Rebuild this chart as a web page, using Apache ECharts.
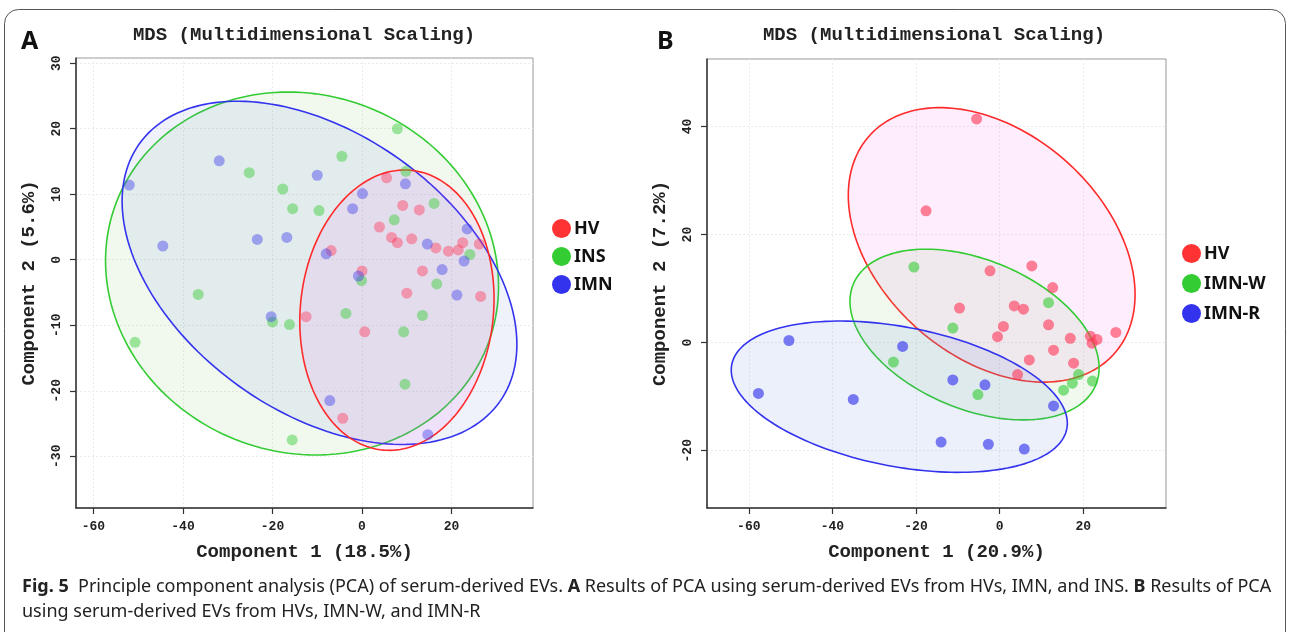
<!DOCTYPE html>
<html><head><meta charset="utf-8">
<script src="https://cdn.jsdelivr.net/npm/echarts@6/dist/echarts.min.js"></script>
<style>html,body{margin:0;padding:0;background:#fff}#c{width:1290px;height:632px}</style>
</head><body><div id="c"></div>
<script>
// ---------- Panel A data ----------
const hvA = [[5.5,12.5],[9.1,8.3],[12.8,7.6],[3.9,5.0],[6.6,3.4],[7.9,2.6],[11.1,3.2],[22.5,2.6],[26.2,2.4],[16.5,1.8],[19.3,1.3],[21.5,1.5],[-6.9,1.4],[13.5,-1.7],[0,-1.7],[10.0,-5.1],[26.5,-5.6],[-12.5,-8.7],[0.6,-11.0],[-4.3,-24.2]];
const insA = [[-25.2,13.3],[-17.7,10.8],[-15.5,7.8],[7.9,20.0],[-4.5,15.8],[-9.6,7.5],[9.8,13.5],[16.1,8.6],[7.2,6.1],[24.1,0.8],[-0.1,-3.2],[16.7,-3.7],[-3.6,-8.2],[13.5,-8.5],[9.3,-11.0],[9.6,-19.0],[-15.6,-27.5],[-16.2,-9.9],[-36.6,-5.3],[-20.0,-9.5],[-50.7,-12.6]];
const imnA = [[-52.0,11.4],[-31.9,15.1],[-44.5,2.1],[-23.4,3.1],[-16.8,3.4],[-10.0,12.9],[9.7,11.6],[0.1,10.1],[-2.1,7.8],[23.5,4.7],[14.6,2.4],[-8.0,0.9],[22.8,-0.2],[17.9,-1.5],[-0.8,-2.5],[21.2,-5.4],[-7.2,-21.5],[14.7,-26.7],[-20.3,-8.7]];
// ---------- Panel B data ----------
const hvB = [[-17.6,24.4],[-5.5,41.4],[7.7,14.2],[-2.3,13.3],[12.7,10.2],[-9.6,6.4],[3.5,6.8],[5.7,6.2],[0.9,3.0],[-0.5,1.1],[11.7,3.3],[16.9,0.8],[21.7,1.2],[23.3,0.6],[22.1,-0.1],[27.8,1.9],[12.9,-1.4],[7.1,-3.2],[17.7,-3.8],[4.3,-5.9]];
const imnwB = [[-20.5,14.0],[11.7,7.4],[-11.2,2.7],[18.9,-5.9],[17.4,-7.5],[22.2,-7.1],[15.3,-8.8],[-5.2,-9.6],[-25.4,-3.6]];
const imnrB = [[-11.2,-6.9],[-3.5,-7.8],[12.9,-11.7],[-14.0,-18.4],[-2.7,-18.8],[5.9,-19.7],[-50.4,0.4],[-23.2,-0.7],[-57.7,-9.4],[-35.0,-10.5]];
// ---------- confidence ellipses: [centerX, centerY, radiusX, radiusY, phase] ----------
const ellHvA  = [7.8, -7.7, 21.7, 21.4, 0.08];
const ellInsA = [-13.4, -2.1, 43.9, 27.7, -0.07];
const ellImnA = [-9.5, -2.0, 44.1, 26.2, -0.43];
const ellHvB   = [-1.9, 18.1, 34.3, 25.4, -0.37];
const ellImnwB = [-6.0, 1.5, 29.8, 15.8, -0.40];
const ellImnrB = [-24.0, -10.0, 40.2, 14.0, -0.36];
// ---------- ticks ----------
const xTicksA = [-60,-40,-20,0,20];
const yTicksA = [-30,-20,-10,0,10,20,30];
const xTicksB = [-60,-40,-20,0,20];
const yTicksB = [-20,0,20,40];
const legendA = ['HV','INS','IMN'];
const legendB = ['HV','IMN-W','IMN-R'];

const RED='#ff3333', GREEN='#33cc33', BLUE='#3333ee';
const mono = "'Liberation Mono','DejaVu Sans Mono',monospace";

function ellipseSeries(name, idx, params, stroke, fill){
  return {
    type:'custom', name:name, xAxisIndex:idx, yAxisIndex:idx, z:1, silent:true,
    data:[params],
    renderItem:function(p, api){
      const cx=api.value(0), cy=api.value(1), rx=api.value(2), ry=api.value(3), ph=api.value(4);
      const pts=[];
      for(let i=0;i<180;i++){
        const t=i/180*2*Math.PI;
        pts.push(api.coord([cx+rx*Math.cos(t), cy+ry*Math.sin(t+ph)]));
      }
      return {type:'polygon', shape:{points:pts}, style:{fill:fill, stroke:stroke, lineWidth:1.6}};
    }
  };
}
function scatterSeries(name, idx, data, color, op){
  return {type:'scatter', name:name, xAxisIndex:idx, yAxisIndex:idx, z:3, data:data,
    symbolSize:11, itemStyle:{color:color, opacity:op}};
}
function xAxis(idx, min, max, ticks, name){
  return {gridIndex:idx, type:'value', min:min, max:max,
    axisLine:{show:true, onZero:false, lineStyle:{color:'#333', width:1.5}},
    axisTick:{show:true, length:6, customValues:ticks, lineStyle:{color:'#333', width:1.2}},
    axisLabel:{customValues:ticks, margin:12, fontFamily:mono, fontWeight:'bold', fontSize:13, color:'#222'},
    splitLine:{show:true, lineStyle:{color:'#ebebeb', type:[2,2]}},
    name:name, nameLocation:'middle', nameGap:35,
    nameTextStyle:{fontFamily:mono, fontWeight:'bold', fontSize:19, color:'#222'}};
}
function yAxis(idx, min, max, ticks, name){
  return {gridIndex:idx, type:'value', min:min, max:max,
    axisLine:{show:true, onZero:false, lineStyle:{color:'#333', width:1.5}},
    axisTick:{show:true, length:6, customValues:ticks, lineStyle:{color:'#333', width:1.2}},
    axisLabel:{customValues:ticks, margin:13, rotate:90, fontFamily:mono, fontWeight:'bold', fontSize:13, color:'#222'},
    splitLine:{show:true, lineStyle:{color:'#ebebeb', type:[2,2]}},
    name:name, nameLocation:'middle', nameGap:37,
    nameTextStyle:{fontFamily:mono, fontWeight:'bold', fontSize:19, color:'#222'}};
}
function legend(left, top, names, gap){
  const cols=[RED,GREEN,BLUE];
  return {orient:'vertical', left:left, top:top, itemWidth:19, itemHeight:19, itemGap:gap, icon:'circle',
    selectedMode:false,
    textStyle:{fontFamily:"'Noto Sans',sans-serif", fontWeight:'bold', fontSize:18, color:'#111', padding:[0,0,0,-2]},
    data:names.map((n,i)=>({name:n, itemStyle:{color:cols[i], opacity:1}}))};
}

const chart = echarts.init(document.getElementById('c'), null, {renderer:'canvas'});
chart.setOption({
  animation:false,
  backgroundColor:'#fff',
  grid:[
    {left:76, top:58, width:457, height:450, show:true, borderColor:'#999', borderWidth:1},
    {left:707, top:59, width:459, height:449, show:true, borderColor:'#999', borderWidth:1}
  ],
  xAxis:[xAxis(0,-63.9,38.2,xTicksA,'Component 1 (18.5%)'), xAxis(1,-70,39.8,xTicksB,'Component 1 (20.9%)')],
  yAxis:[yAxis(0,-37.9,30.8,yTicksA,'Component 2 (5.6%)'), yAxis(1,-30.6,52.5,yTicksB,'Component 2 (7.2%)')],
  legend:[legend(547,214,legendA,9), legend(1177,239,legendB,11)],
  series:[
    ellipseSeries('e1',0,ellInsA,GREEN,'rgba(120,200,100,0.10)'),
    ellipseSeries('e2',0,ellImnA,BLUE,'rgba(100,130,220,0.10)'),
    ellipseSeries('e3',0,ellHvA,'#ff2a2a','rgba(240,80,240,0.10)'),
    scatterSeries('HV',0,hvA,'#ff3355',0.42),
    scatterSeries('INS',0,insA,'#33cc33',0.45),
    scatterSeries('IMN',0,imnA,'#4444ee',0.45),
    ellipseSeries('e4',1,ellHvB,'#ff2a2a','rgba(240,80,240,0.10)'),
    ellipseSeries('e5',1,ellImnwB,GREEN,'rgba(120,200,100,0.10)'),
    ellipseSeries('e6',1,ellImnrB,BLUE,'rgba(100,130,220,0.12)'),
    scatterSeries('HV',1,hvB,'#ff3355',0.6),
    scatterSeries('IMN-W',1,imnwB,'#33cc33',0.6),
    scatterSeries('IMN-R',1,imnrB,'#4444ee',0.7)
  ],
  graphic:[
    {type:'rect', silent:true, shape:{x:4.5,y:9.5,width:1281,height:660,r:14}, style:{fill:'none', stroke:'#555', lineWidth:1}},
    {type:'text', silent:true, x:304, y:35, style:{text:'MDS (Multidimensional Scaling)', align:'center', verticalAlign:'middle', fontFamily:mono, fontWeight:'bold', fontSize:19, fill:'#222'}},
    {type:'text', silent:true, x:934, y:35, style:{text:'MDS (Multidimensional Scaling)', align:'center', verticalAlign:'middle', fontFamily:mono, fontWeight:'bold', fontSize:19, fill:'#222'}},
    {type:'text', silent:true, x:21, y:42, style:{text:'A', verticalAlign:'middle', fontFamily:"'Noto Sans',sans-serif", fontWeight:'bold', fontSize:25, fill:'#111'}},
    {type:'text', silent:true, x:657, y:42, style:{text:'B', verticalAlign:'middle', fontFamily:"'Noto Sans',sans-serif", fontWeight:'bold', fontSize:25, fill:'#111'}},
    {type:'text', silent:true, x:22, y:587, style:{text:'{b|Fig. 5}  Principle component analysis (PCA) of serum-derived EVs. {b|A} Results of PCA using serum-derived EVs from HVs, IMN, and INS. {b|B} Results of PCA',
      verticalAlign:'middle', fontFamily:"'Liberation Sans Narrow','Noto Sans',sans-serif", fontSize:18, fill:'#222',
      rich:{b:{fontWeight:'bold', fontFamily:"'Liberation Sans Narrow','Noto Sans',sans-serif", fontSize:18, fill:'#222'}}}},
    {type:'text', silent:true, x:22, y:612, style:{text:'using serum-derived EVs from HVs, IMN-W, and IMN-R',
      verticalAlign:'middle', fontFamily:"'Liberation Sans Narrow','Noto Sans',sans-serif", fontSize:18, fill:'#222'}}
  ]
});
</script></body></html>
